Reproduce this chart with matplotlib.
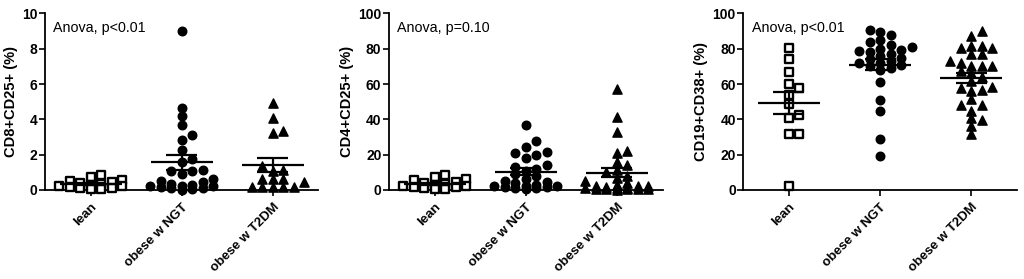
import numpy as np
import matplotlib.pyplot as plt

plt.rcParams['font.family'] = ['Liberation Sans', 'DejaVu Sans']

groups = ["lean", "obese w NGT", "obese w T2DM"]

# CD8+CD25+ (%)
cd8_lean = [0.85, 0.72, 0.55, 0.5, 0.45, 0.4, 0.35, 0.3, 0.25, 0.2, 0.15, 0.1, 0.1, 0.05, 0.05]
cd8_ngt = [9.0, 4.65, 4.2, 3.7, 3.1, 2.85, 2.25, 1.75, 1.6, 1.15, 1.1, 1.1, 0.9, 0.6, 0.5,
           0.45, 0.35, 0.3, 0.25, 0.2, 0.2, 0.15, 0.1, 0.1, 0.05, 0.0]
cd8_t2dm = [4.95, 4.05, 3.35, 3.2, 1.35, 1.15, 1.1, 0.65, 0.65, 0.65, 0.45, 0.15, 0.15, 0.15, 0.15, 0.15]

# CD4+CD25+ (%)
cd4_lean = [8.5, 7.5, 6.5, 5.5, 4.5, 4.0, 3.5, 3.0, 2.5, 2.0, 1.5, 1.5, 1.0, 0.5, 0.5]
cd4_ngt = [37, 28, 24.5, 21.2, 21.5, 19.8, 18, 14, 13, 12, 11, 9, 8, 6.5, 5, 4.5, 4, 3, 2.5,
           2, 2, 1.5, 1.5, 1, 1, 0.5]
cd4_t2dm = [57.4, 41.3, 33.1, 22.3, 20.8, 15.7, 14.2, 11.4, 10, 8, 7, 5, 4, 3, 2.5, 2, 2, 1.5,
            1, 1, 1, 0.5, 0.5, 0.5, 0.3, 0.3, 0.2]

# CD19+CD38+ (%)
cd19_lean = [80.5, 74.3, 66.9, 60.3, 57.5, 53.8, 48.7, 42.7, 40.8, 31.8, 31.8, 2.2]
cd19_ngt = [90.4, 89.5, 88, 85, 83.9, 82, 81, 80, 79, 78.6, 78, 77.1, 76, 75, 74, 73, 72, 72,
            71, 70, 69, 68, 61.2, 51.1, 44.9, 29, 19.3]
cd19_t2dm = [89.9, 87.1, 81.8, 81.5, 80.5, 80.5, 76.8, 76.8, 73, 72.1, 70.2, 70.2, 70.2, 67.4,
             66, 64, 62, 58.4, 58, 56.7, 56, 51.5, 48.1, 48.1, 44.9, 40.8, 39.7, 36.5, 31.5]

panels = [
    ([cd8_lean, cd8_ngt, cd8_t2dm], "CD8+CD25+ (%)", 10, 2, "Anova, p<0.01"),
    ([cd4_lean, cd4_ngt, cd4_t2dm], "CD4+CD25+ (%)", 100, 20, "Anova, p=0.10"),
    ([cd19_lean, cd19_ngt, cd19_t2dm], "CD19+CD38+ (%)", 100, 20, "Anova, p<0.01"),
]
lefts = [0.044, 0.380, 0.726]


def swarm_x(values, ax, step_px=10.5, gap_px=7.0, maxk=3):
    # grid-like column scatter (Prism style), offsets in x data units
    bbox = ax.get_window_extent()
    y0, y1 = ax.get_ylim()
    x0, x1 = ax.get_xlim()
    ys = (np.asarray(values, float) - y0) / (y1 - y0) * bbox.height
    step = step_px / (bbox.width / (x1 - x0))
    ks = [0]
    for k in range(1, maxk + 1):
        ks += [k, -k]
    cols = {k: [] for k in ks}
    xs = np.zeros(len(ys))
    for i in np.argsort(ys):
        best, bestd = None, -1
        for k in ks:
            d = min([abs(ys[i] - yy) for yy in cols[k]], default=1e9)
            if d >= gap_px:
                best = k
                break
            if d > bestd:
                best, bestd = k, d
        cols[best].append(ys[i])
        xs[i] = best * step
    return xs


fig = plt.figure(figsize=(10.24, 2.79), dpi=100)
styles = [dict(marker='s', s=28, facecolors='white', edgecolors='black', linewidths=1.7),
          dict(marker='o', s=38, color='black'),
          dict(marker='^', s=44, color='black')]

for (data, ylabel, ymax, ystep, note), left in zip(panels, lefts):
    ax = fig.add_axes([left, 0.319, 0.267, 0.633])
    ax.set_xlim(0.5, 3.5)
    ax.set_ylim(0, ymax)
    for i, (vals, st) in enumerate(zip(data, styles), start=1):
        offs = swarm_x(vals, ax)
        ax.scatter(i + offs, vals, clip_on=False, zorder=3, **st)
        m = np.mean(vals)
        sem = np.std(vals, ddof=1) / np.sqrt(len(vals))
        ax.hlines(m, i - 0.34, i + 0.34, color='black', lw=1.6, zorder=4)
        ax.hlines([m - sem, m + sem], i - 0.17, i + 0.17, color='black', lw=1.6, zorder=4)
        ax.vlines(i, m - sem, m + sem, color='black', lw=1.6, zorder=4)
    ax.set_xticks([1, 2, 3])
    ax.set_xticklabels(groups, rotation=45, ha='right', rotation_mode='anchor',
                       fontsize=9.5, fontweight='bold')
    ax.set_yticks(np.arange(0, ymax + ystep / 2, ystep))
    ax.tick_params(axis='y', labelsize=10, width=1.2, length=4, pad=1.5)
    ax.tick_params(axis='x', width=1.2, length=4, pad=4)
    for lab in ax.get_yticklabels():
        lab.set_fontweight('bold')
    ax.set_ylabel(ylabel, fontsize=10.5, fontweight='bold', labelpad=3)
    for side in ['top', 'right']:
        ax.spines[side].set_visible(False)
    for side in ['left', 'bottom']:
        ax.spines[side].set_linewidth(1.3)
    ax.text(0.03, 0.92, note, transform=ax.transAxes, fontsize=10.3, va='center')

fig.savefig("out.png", dpi=100)
